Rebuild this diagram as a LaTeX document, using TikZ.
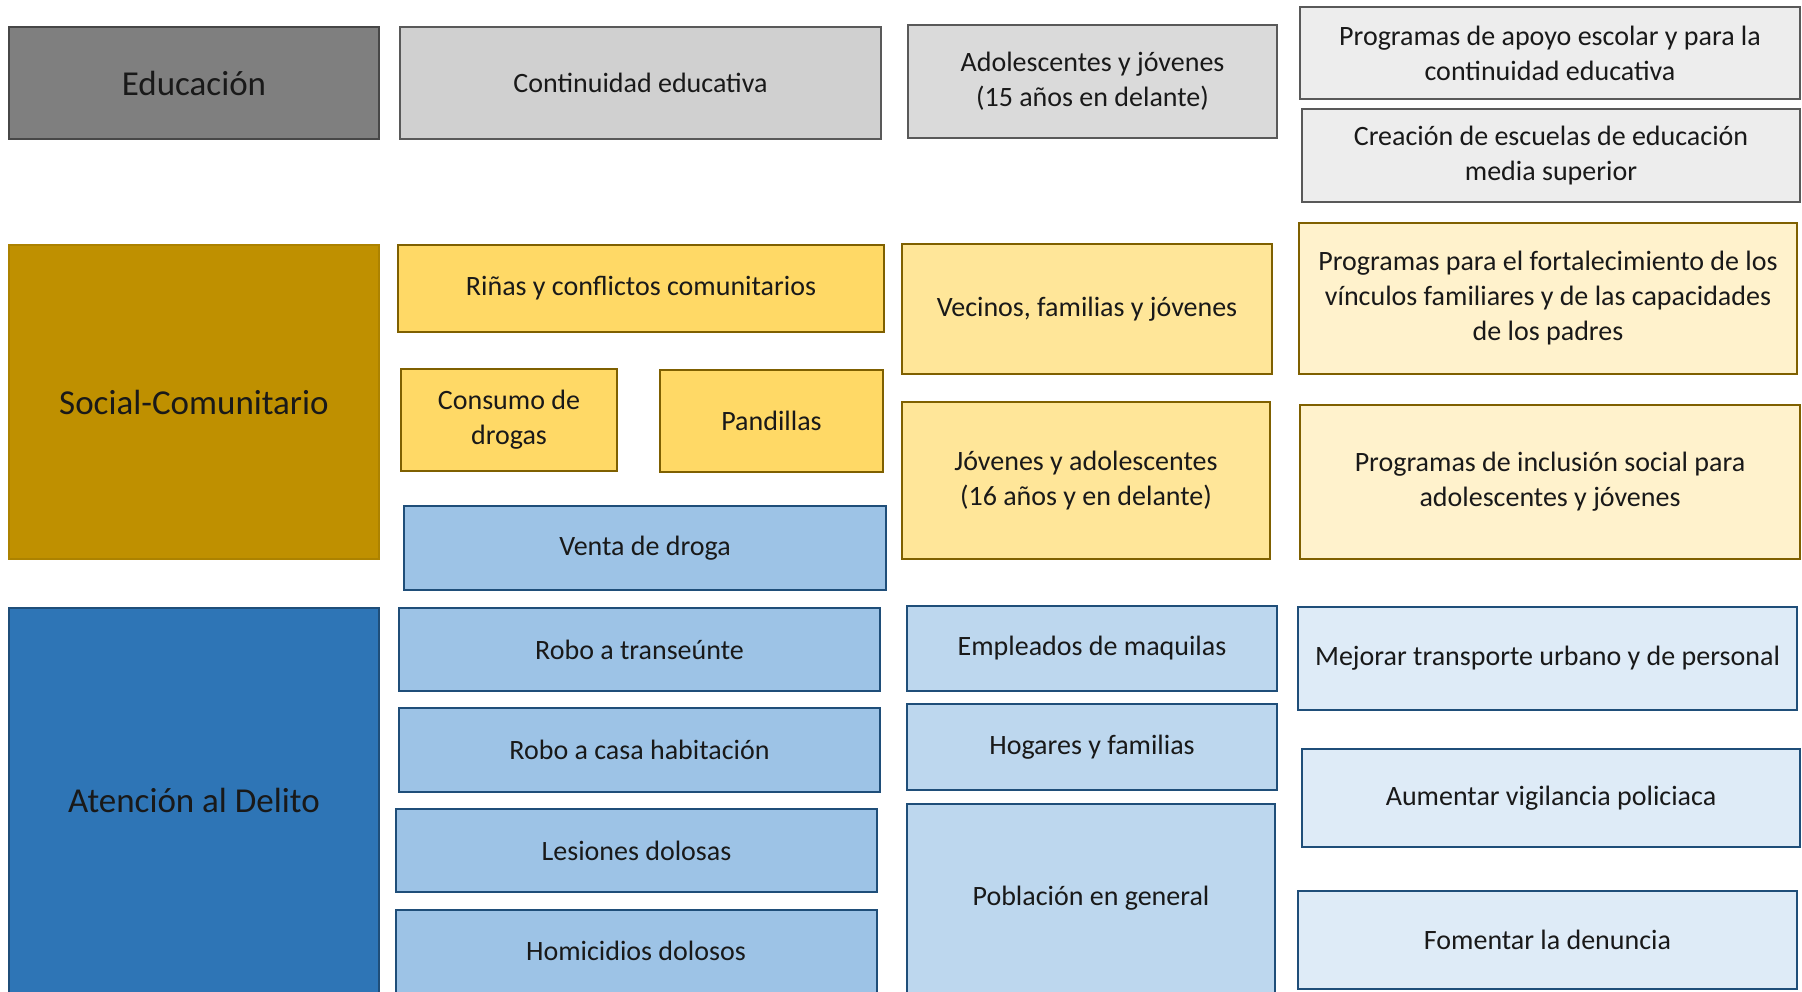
\documentclass[tikz,border=0pt]{standalone}
\usepackage{fontspec}
\setmainfont{Carlito}
\definecolor{edudark}{HTML}{7F7F7F}
\definecolor{edumid}{HTML}{D0D0D0}
\definecolor{edulight}{HTML}{DADADA}
\definecolor{edupale}{HTML}{EDEDED}
\definecolor{grayline}{HTML}{595959}
\definecolor{socdark}{HTML}{BF9000}
\definecolor{socmid}{HTML}{FFD966}
\definecolor{soclight}{HTML}{FFE699}
\definecolor{socpale}{HTML}{FFF2CC}
\definecolor{socline}{HTML}{7F6000}
\definecolor{deldark}{HTML}{2E75B6}
\definecolor{delmid}{HTML}{9DC3E6}
\definecolor{dellight}{HTML}{BDD7EE}
\definecolor{delpale}{HTML}{DEEBF7}
\definecolor{delline}{HTML}{1F4E79}
\tikzset{
  basebox/.style={draw, line width=1pt, inner sep=0pt, outer sep=0pt, align=center,
    font=\fontsize{14}{17.5}\selectfont, text=black!90},
  catbox/.style={basebox, font=\fontsize{17.5}{21}\selectfont},
  edcat/.style={catbox, fill=edudark, draw=grayline!80!black},
  edA/.style={basebox, fill=edumid, draw=grayline},
  edB/.style={basebox, fill=edulight, draw=grayline},
  edC/.style={basebox, fill=edupale, draw=grayline},
  socat/.style={catbox, fill=socdark, draw=socdark!90!black},
  soA/.style={basebox, fill=socmid, draw=socline},
  soB/.style={basebox, fill=soclight, draw=socline},
  soC/.style={basebox, fill=socpale, draw=socline},
  decat/.style={catbox, fill=deldark, draw=delline},
  deA/.style={basebox, fill=delmid, draw=delline},
  deB/.style={basebox, fill=dellight, draw=delline},
  deC/.style={basebox, fill=delpale, draw=delline},
}
\newcommand{\boxnode}[7]{%
  \pgfmathsetmacro{\bxCX}{(#3+#5)/2}%
  \pgfmathsetmacro{\bxCY}{(#4+#6)/2}%
  \pgfmathsetmacro{\bxW}{(#5-#3)*0.5}%
  \pgfmathsetmacro{\bxH}{(#6-#4)*0.5}%
  \node[#2, minimum width=\bxW pt, minimum height=\bxH pt] (#1) at (\bxCX,\bxCY) {#7};}
\begin{document}
\begin{tikzpicture}[x=0.5pt,y=-0.5pt]
\clip (0,0) rectangle (1802,991);
\fill[white] (0,0) rectangle (1802,991);
% Educacion row
\boxnode{edu}{edcat}{9}{27}{379}{139}{Educación}
\boxnode{cont}{edA}{400}{27}{881}{139}{Continuidad educativa}
\boxnode{ado}{edB}{908}{25}{1277}{138}{Adolescentes y jóvenes\\(15 años en delante)}
\boxnode{apoyo}{edC}{1300}{7}{1800}{99}{Programas de apoyo escolar y para la\\continuidad educativa}
\boxnode{crea}{edC}{1302}{109}{1800}{202}{Creación de escuelas de educación\\media superior}
% Social row
\boxnode{soc}{socat}{9}{245}{379}{559}{Social-Comunitario}
\boxnode{rinas}{soA}{398}{245}{884}{332}{Riñas y conflictos comunitarios}
\boxnode{consumo}{soA}{401}{369}{617}{471}{Consumo de\\drogas}
\boxnode{pand}{soA}{660}{370}{883}{472}{Pandillas}
\boxnode{venta}{deA}{404}{506}{886}{590}{Venta de droga}
\boxnode{vecinos}{soB}{902}{244}{1272}{374}{Vecinos, familias y jóvenes}
\boxnode{jov}{soB}{902}{402}{1270}{559}{Jóvenes y adolescentes\\(16 años y en delante)}
\boxnode{fort}{soC}{1299}{223}{1797}{374}{Programas para el fortalecimiento de los\\vínculos familiares y de las capacidades\\de los padres}
\boxnode{incl}{soC}{1300}{405}{1800}{559}{Programas de inclusión social para\\adolescentes y jóvenes}
% Delito row
\boxnode{del}{decat}{9}{608}{379}{1000}{}
\node[font=\fontsize{17.5}{21}\selectfont, text=black!90] (deltxt) at (194,800) {Atención al Delito};
\boxnode{robot}{deA}{399}{608}{880}{691}{Robo a transeúnte}
\boxnode{roboc}{deA}{399}{708}{880}{792}{Robo a casa habitación}
\boxnode{lesi}{deA}{396}{809}{877}{892}{Lesiones dolosas}
\boxnode{homi}{deA}{396}{910}{877}{1000}{}
\node[font=\fontsize{14}{17.5}\selectfont, text=black!90] (homitxt) at (636,951) {Homicidios dolosos};
\boxnode{empl}{deB}{907}{606}{1277}{691}{Empleados de maquilas}
\boxnode{hoga}{deB}{907}{704}{1277}{790}{Hogares y familias}
\boxnode{pobl}{deB}{907}{804}{1275}{1000}{}
\node[font=\fontsize{14}{17.5}\selectfont, text=black!90] (pobltxt) at (1091,898) {Población en general};
\boxnode{mejo}{deC}{1298}{607}{1797}{710}{Mejorar transporte urbano y de personal}
\boxnode{aume}{deC}{1302}{749}{1800}{847}{Aumentar vigilancia policiaca}
\boxnode{fome}{deC}{1298}{891}{1797}{989}{Fomentar la denuncia}
\end{tikzpicture}
\end{document}
